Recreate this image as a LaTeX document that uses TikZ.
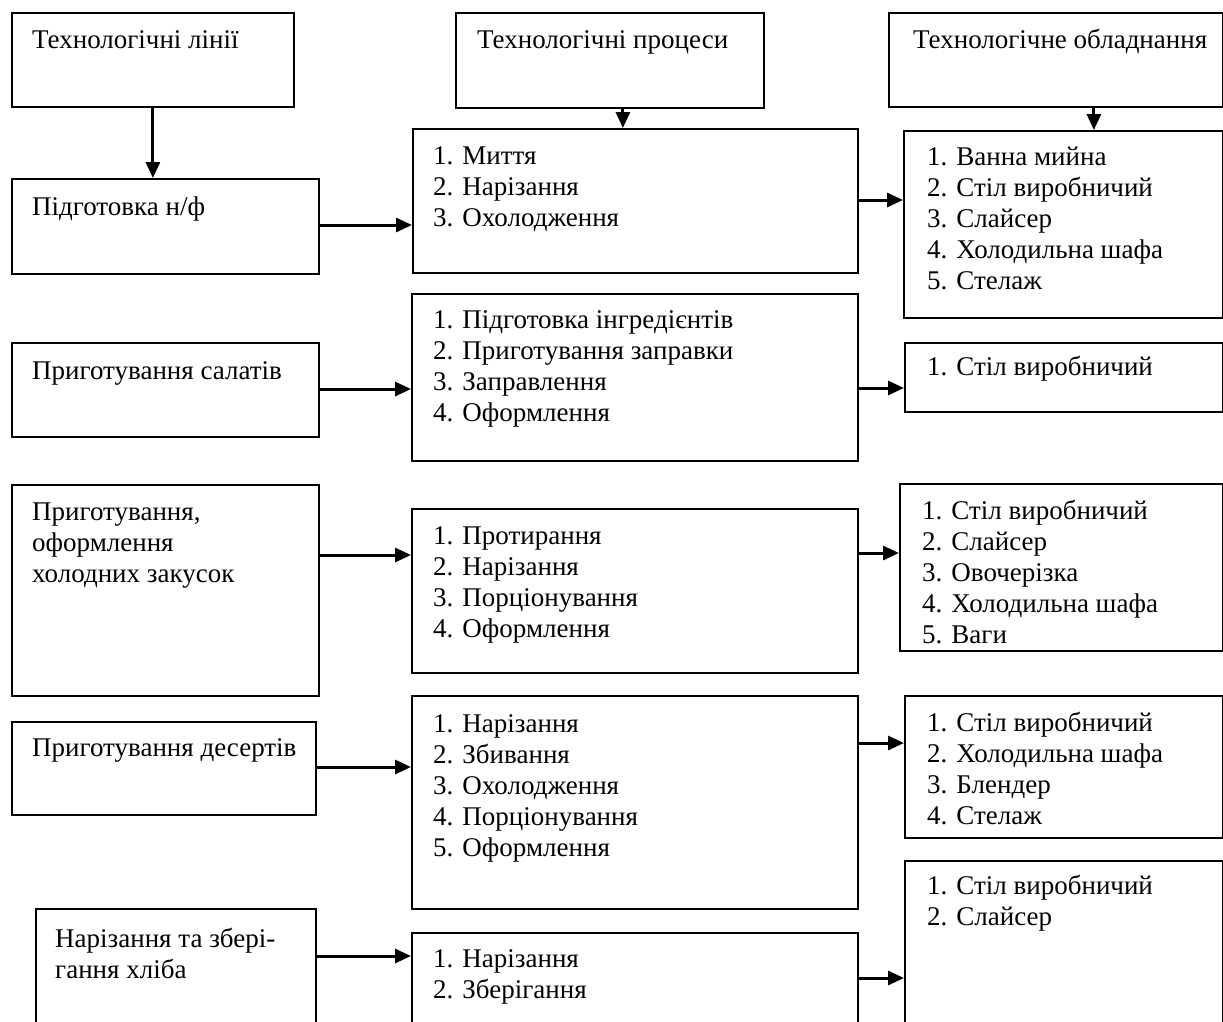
\documentclass[tikz,border=0pt]{standalone}
\usepackage{fontspec}
\setmainfont{Liberation Serif}
\usepackage{tikz}
\usetikzlibrary{arrows.meta}
\tikzset{
  tl-box/.style={
    rectangle, draw=black, line width=1.8pt, inner sep=0pt,
    anchor=north west
  },
  tl-text/.style={
    anchor=north west, inner sep=0pt, align=left,
    font=\fontsize{27}{31}\selectfont, execute at begin node=\strut
  },
  tl-flow/.style={-{Triangle[length=16pt,width=14pt]}, line width=3pt},
}
\begin{document}
\begin{tikzpicture}[x=1pt, y=-1pt]
  \clip (0,0) rectangle (1223,1021);

  % headers
  \node[tl-box, minimum width=282pt, minimum height=94pt] (hdrL) at (11,12)  {};
  \node[tl-box, minimum width=308pt, minimum height=95pt] (hdrP) at (455,12) {};
  \node[tl-box, minimum width=334pt, minimum height=94pt] (hdrE) at (888,12) {};
  \node[tl-text, xshift=21pt, yshift=-15pt] (tL0) at (hdrL.north west) {Технологічні лінії};
  \node[tl-text, xshift=22pt, yshift=-15pt] (tP0) at (hdrP.north west) {Технологічні процеси};
  \node[tl-text, xshift=25pt, yshift=-15pt] (tE0) at (hdrE.north west) {Технологічне обладнання};

  % technological lines
  \node[tl-box, minimum width=307pt, minimum height=95pt]  (L1) at (11,178) {};
  \node[tl-box, minimum width=307pt, minimum height=94pt]  (L2) at (11,342) {};
  \node[tl-box, minimum width=307pt, minimum height=211pt] (L3) at (11,484) {};
  \node[tl-box, minimum width=304pt, minimum height=93pt]  (L4) at (11,721) {};
  \node[tl-box, minimum width=280pt, minimum height=140pt] (L5) at (35,908) {};
  \node[tl-text, xshift=21pt, yshift=-16pt] (tL1) at (L1.north west) {Підготовка н/ф};
  \node[tl-text, xshift=21pt, yshift=-16pt] (tL2) at (L2.north west) {Приготування салатів};
  \node[tl-text, xshift=21pt, yshift=-19pt] (tL3) at (L3.north west) {Приготування,\\оформлення\\холодних закусок};
  \node[tl-text, xshift=21pt, yshift=-14pt] (tL4) at (L4.north west) {Приготування десертів};
  \node[tl-text, xshift=20pt, yshift=-20pt] (tL5) at (L5.north west) {Нарізання та збері-\\гання хліба};

  % technological processes
  \node[tl-box, minimum width=445pt, minimum height=144pt] (P1) at (412,128) {};
  \node[tl-box, minimum width=446pt, minimum height=167pt] (P2) at (411,293) {};
  \node[tl-box, minimum width=446pt, minimum height=164pt] (P3) at (411,508) {};
  \node[tl-box, minimum width=446pt, minimum height=213pt] (P4) at (411,695) {};
  \node[tl-box, minimum width=446pt, minimum height=120pt] (P5) at (411,932) {};
  \node[tl-text, xshift=21pt, yshift=-18pt] (tP1) at (P1.north west) {1. Миття\\2. Нарізання\\3. Охолодження};
  \node[tl-text, xshift=22pt, yshift=-17pt] (tP2) at (P2.north west) {1. Підготовка інгредієнтів\\2. Приготування заправки\\3. Заправлення\\4. Оформлення};
  \node[tl-text, xshift=22pt, yshift=-18pt] (tP3) at (P3.north west) {1. Протирання\\2. Нарізання\\3. Порціонування\\4. Оформлення};
  \node[tl-text, xshift=22pt, yshift=-19pt] (tP4) at (P4.north west) {1. Нарізання\\2. Збивання\\3. Охолодження\\4. Порціонування\\5. Оформлення};
  \node[tl-text, xshift=22pt, yshift=-17pt] (tP5) at (P5.north west) {1. Нарізання\\2. Зберігання};

  % technological equipment
  \node[tl-box, minimum width=319pt, minimum height=187pt] (E1) at (903,130) {};
  \node[tl-box, minimum width=318pt, minimum height=69pt]  (E2) at (904,342) {};
  \node[tl-box, minimum width=323pt, minimum height=167pt] (E3) at (899,483) {};
  \node[tl-box, minimum width=318pt, minimum height=142pt] (E4) at (904,695) {};
  \node[tl-box, minimum width=318pt, minimum height=190pt] (E5) at (904,860) {};
  \node[tl-text, xshift=24pt, yshift=-17pt] (tE1) at (E1.north west) {1. Ванна мийна\\2. Стіл виробничий\\3. Слайсер\\4. Холодильна шафа\\5. Стелаж};
  \node[tl-text, xshift=23pt, yshift=-12pt] (tE2) at (E2.north west) {1. Стіл виробничий};
  \node[tl-text, xshift=23pt, yshift=-17pt] (tE3) at (E3.north west) {1. Стіл виробничий\\2. Слайсер\\3. Овочерізка\\4. Холодильна шафа\\5. Ваги};
  \node[tl-text, xshift=23pt, yshift=-17pt] (tE4) at (E4.north west) {1. Стіл виробничий\\2. Холодильна шафа\\3. Блендер\\4. Стелаж};
  \node[tl-text, xshift=23pt, yshift=-15pt] (tE5) at (E5.north west) {1. Стіл виробничий\\2. Слайсер};

  % arrows
  \draw[tl-flow] (hdrL.south) -- (hdrL.south |- L1.north);
  \draw[tl-flow] ([xshift=13pt]hdrP.south) -- ([xshift=13pt]hdrP.south |- P1.north);
  \draw[tl-flow] ([xshift=38pt]hdrE.south) -- ([xshift=38pt]hdrE.south |- E1.north);
  \draw[tl-flow] ([yshift=-47pt]L1.north east) -- ([yshift=-47pt]L1.north east -| P1.west);
  \draw[tl-flow] ([yshift=-47pt]L2.north east) -- ([yshift=-47pt]L2.north east -| P2.west);
  \draw[tl-flow] ([yshift=-71pt]L3.north east) -- ([yshift=-71pt]L3.north east -| P3.west);
  \draw[tl-flow] ([yshift=-46pt]L4.north east) -- ([yshift=-46pt]L4.north east -| P4.west);
  \draw[tl-flow] ([yshift=-48pt]L5.north east) -- ([yshift=-48pt]L5.north east -| P5.west);
  \draw[tl-flow] ([yshift=-72pt]P1.north east) -- ([yshift=-72pt]P1.north east -| E1.west);
  \draw[tl-flow] ([yshift=-95pt]P2.north east) -- ([yshift=-95pt]P2.north east -| E2.west);
  \draw[tl-flow] ([yshift=-45pt]P3.north east) -- ([yshift=-45pt]P3.north east -| E3.west);
  \draw[tl-flow] ([yshift=-48pt]P4.north east) -- ([yshift=-48pt]P4.north east -| E4.west);
  \draw[tl-flow] ([yshift=-46pt]P5.north east) -- ([yshift=-46pt]P5.north east -| E5.west);
\end{tikzpicture}
\end{document}
